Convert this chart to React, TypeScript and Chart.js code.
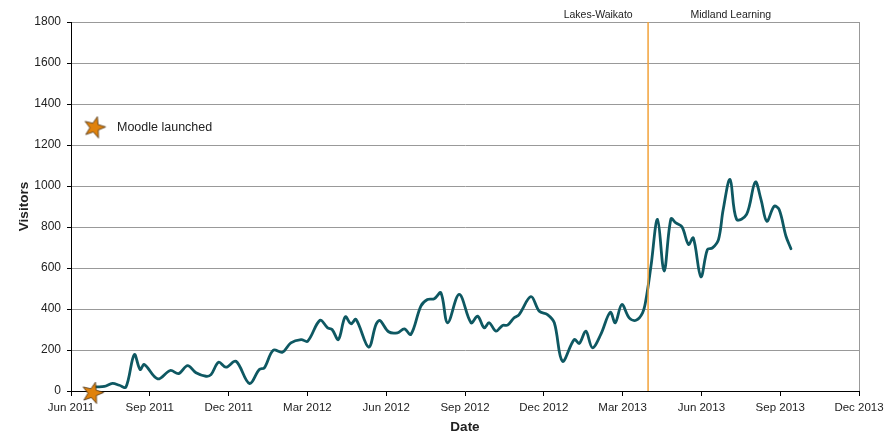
import React, { useEffect, useRef } from "react";
import { Chart, registerables } from "chart.js";

Chart.register(...registerables);

// x values are months since Jun 2011 (0 = Jun 2011, 30 = Dec 2013)
const tickLabels = [
  "Jun 2011", "Sep 2011", "Dec 2011", "Mar 2012", "Jun 2012", "Sep 2012",
  "Dec 2012", "Mar 2013", "Jun 2013", "Sep 2013", "Dec 2013",
];

const visitMonths = [
  0.95, 1.27, 1.58, 1.84, 2.09, 2.41, 2.63, 2.79, 3.30, 3.78,
  4.10, 4.44, 4.76, 5.14, 5.33, 5.62, 5.90, 6.28, 6.79, 7.17,
  7.36, 7.70, 8.05, 8.37, 8.76, 9.01, 9.48, 9.77, 9.94, 10.18,
  10.44, 10.66, 10.85, 11.33, 11.61, 11.76, 12.09, 12.43, 12.69, 12.94,
  13.32, 13.57, 13.83, 14.08, 14.34, 14.78, 15.23, 15.48, 15.73, 15.92,
  16.18, 16.43, 16.62, 16.87, 17.06, 17.51, 17.83, 18.14, 18.40, 18.71,
  19.16, 19.35, 19.60, 19.85, 20.17, 20.53, 20.72, 20.97, 21.25, 21.51,
  21.76, 21.89, 22.08, 22.33, 22.58, 22.84, 23.03, 23.26, 23.51, 23.69,
  23.98, 24.23, 24.42, 24.65, 24.83, 25.09, 25.34, 25.72, 26.05, 26.27,
  26.49, 26.77, 26.96, 27.22, 27.41,
];

const visitors = [
  20, 22, 37, 28, 19, 178, 105, 129, 59, 100,
  85, 124, 89, 72, 80, 140, 116, 145, 37, 105,
  113, 199, 189, 235, 251, 243, 345, 308, 300, 251,
  362, 328, 349, 214, 324, 344, 289, 284, 303, 276,
  414, 446, 450, 479, 333, 471, 333, 365, 308, 333,
  292, 320, 321, 357, 373, 460, 389, 373, 333, 145,
  251, 232, 292, 211, 276, 384, 333, 422, 357, 345,
  381, 446, 609, 837, 585, 840, 820, 801, 715, 747,
  557, 690, 698, 739, 885, 1032, 837, 861, 1019, 934,
  828, 901, 885, 755, 694,
];

const launchMonths = [0.82];
const launchValues = [-10];
const launchLabel = "Moodle launched";

const boundaryMonth = 21.97;
const regionLabels = ["Lakes-Waikato", "Midland Learning"];
const regionLabelMonths = [20.07, 25.12];

const FONT = "'Liberation Sans', Arial, sans-serif";
const LINE_COLOR = "#0e5862";
const STAR_FILL = "#e0820c";

function makeStar(): HTMLCanvasElement {
  const c = document.createElement("canvas");
  c.width = 26;
  c.height = 26;
  const ctx = c.getContext("2d")!;
  const cx = 13, cy = 13, R = 11.2, r = 4.6;
  const rot = (15 * Math.PI) / 180;
  ctx.beginPath();
  for (let i = 0; i < 10; i++) {
    const rad = i % 2 === 0 ? R : r;
    const a = -Math.PI / 2 + rot + (i * Math.PI) / 5;
    const x = cx + rad * Math.cos(a);
    const y = cy + rad * Math.sin(a);
    if (i === 0) ctx.moveTo(x, y);
    else ctx.lineTo(x, y);
  }
  ctx.closePath();
  ctx.fillStyle = STAR_FILL;
  ctx.fill();
  ctx.lineWidth = 0.8;
  ctx.strokeStyle = "#4a3010";
  ctx.stroke();
  return c;
}

export default function App() {
  const ref = useRef<HTMLCanvasElement | null>(null);

  useEffect(() => {
    if (!ref.current) return;
    const star = makeStar();

    const overlay = {
      id: "overlay",
      afterDatasetsDraw(chart: any) {
        const { ctx, chartArea, scales } = chart;
        const x = scales.x.getPixelForValue(boundaryMonth);
        ctx.save();
        // right border
        ctx.strokeStyle = "#999999";
        ctx.lineWidth = 1;
        ctx.beginPath();
        ctx.moveTo(Math.round(chartArea.right) + 0.5, chartArea.top);
        ctx.lineTo(Math.round(chartArea.right) + 0.5, chartArea.bottom);
        ctx.stroke();
        // boundary line
        ctx.strokeStyle = "#f2a23a";
        ctx.lineWidth = 1.5;
        ctx.beginPath();
        ctx.moveTo(x, chartArea.top);
        ctx.lineTo(x, chartArea.bottom);
        ctx.stroke();
        // region labels
        ctx.fillStyle = "#222222";
        ctx.font = `10.5px ${FONT}`;
        ctx.textAlign = "center";
        ctx.textBaseline = "middle";
        regionLabels.forEach((t, i) => {
          ctx.fillText(t, scales.x.getPixelForValue(regionLabelMonths[i]), chartArea.top - 6.5);
        });
        // legend
        const lx = chartArea.left + 23.5;
        const ly = chartArea.top + 105.5;
        ctx.drawImage(star, lx - 13, ly - 13);
        ctx.textAlign = "left";
        ctx.font = `12.5px ${FONT}`;
        ctx.fillText(launchLabel, lx + 22.5, ly + 0.5);
        ctx.restore();
      },
    };

    const chart = new Chart(ref.current, {
      type: "line",
      data: {
        datasets: [
          {
            label: launchLabel,
            data: launchMonths.map((m, i) => ({ x: m, y: launchValues[i] })),
            showLine: false,
            pointStyle: star as any,
            pointRadius: 11,
            clip: false as any,
          },
          {
            label: "Visitors",
            data: visitMonths.map((m, i) => ({ x: m, y: visitors[i] })),
            borderColor: LINE_COLOR,
            borderWidth: 2.8,
            pointRadius: 0,
            tension: 0.35,
            fill: false,
            borderCapStyle: "round",
            borderJoinStyle: "round",
          },
        ],
      },
      options: {
        animation: false,
        responsive: true,
        maintainAspectRatio: false,
        layout: { padding: { left: 0, right: 27, top: 22, bottom: 0 } },
        plugins: { legend: { display: false }, tooltip: { enabled: false } },
        scales: {
          x: {
            type: "linear",
            min: 0,
            max: 30,
            afterFit: (s: any) => {
              s.height = 43;
              s.paddingLeft = 0;
              s.paddingRight = 0;
            },
            afterBuildTicks: (s: any) => {
              s.ticks = tickLabels.map((_, i) => ({ value: i * 3 }));
            },
            ticks: {
              callback: (v: any) => tickLabels[Math.round(Number(v) / 3)] ?? "",
              color: "#222222",
              font: { family: FONT, size: 11.5 },
              padding: 5,
              maxRotation: 0,
              autoSkip: false,
            },
            grid: { drawOnChartArea: false, drawTicks: true, tickLength: 5, tickColor: "#000000" },
            border: { color: "#000000", width: 1 },
            title: {
              display: true,
              text: "Date",
              color: "#222222",
              font: { family: FONT, size: 13.5, weight: "bold", lineHeight: 1 },
              padding: { top: 0, bottom: 0 },
            },
          },
          y: {
            min: 0,
            max: 1800,
            afterFit: (s: any) => { s.width = 71; },
            ticks: {
              stepSize: 200,
              callback: (v: any) => String(v),
              color: "#222222",
              font: { family: FONT, size: 12 },
              padding: 6,
            },
            grid: { color: "#999999", lineWidth: 1, tickLength: 4, tickColor: "#000000" },
            border: { color: "#000000", width: 1 },
            title: {
              display: true,
              text: "Visitors",
              color: "#222222",
              font: { family: FONT, size: 13.5, weight: "bold", lineHeight: 1 },
              padding: { top: 17.5, bottom: 0 },
            },
          },
        },
      },
      plugins: [overlay],
    });
    return () => chart.destroy();
  }, []);

  return (
    <div style={{ position: "fixed", left: 0, top: 0, width: 886, height: 434, background: "#fff" }}>
      <canvas ref={ref} />
    </div>
  );
}
